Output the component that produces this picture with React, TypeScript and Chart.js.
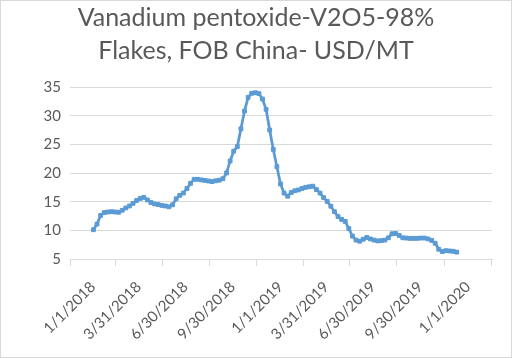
import React, { useEffect, useRef } from 'react';
import { Chart, registerables } from 'chart.js';

Chart.register(...registerables);

const TITLE_LINES = ['Vanadium pentoxide-V2O5-98%', 'Flakes, FOB China- USD/MT'];

const DATES = [
  '2018-01-02', '2018-01-09', '2018-01-16', '2018-01-23', '2018-01-30',
  '2018-02-06', '2018-02-13', '2018-02-20', '2018-02-27',
  '2018-03-06', '2018-03-13', '2018-03-20', '2018-03-27',
  '2018-04-03', '2018-04-10', '2018-04-17', '2018-04-24',
  '2018-05-01', '2018-05-08', '2018-05-15', '2018-05-22', '2018-05-29',
  '2018-06-05', '2018-06-12', '2018-06-19', '2018-06-26',
  '2018-07-03', '2018-07-10', '2018-07-17', '2018-07-24', '2018-07-31',
  '2018-08-07', '2018-08-14', '2018-08-21', '2018-08-28',
  '2018-09-04', '2018-09-11', '2018-09-18', '2018-09-25',
  '2018-10-02', '2018-10-09', '2018-10-16', '2018-10-23', '2018-10-30',
  '2018-11-06', '2018-11-13', '2018-11-20', '2018-11-27',
  '2018-12-04', '2018-12-11', '2018-12-18', '2018-12-25',
  '2019-01-01', '2019-01-08', '2019-01-15', '2019-01-22', '2019-01-29',
  '2019-02-05', '2019-02-12', '2019-02-19', '2019-02-26',
  '2019-03-05', '2019-03-12', '2019-03-19', '2019-03-26',
  '2019-04-02', '2019-04-09', '2019-04-16', '2019-04-23', '2019-04-30',
  '2019-05-07', '2019-05-14', '2019-05-21', '2019-05-28',
  '2019-06-04', '2019-06-11', '2019-06-18', '2019-06-25',
  '2019-07-02', '2019-07-09', '2019-07-16', '2019-07-23', '2019-07-30',
  '2019-08-06', '2019-08-13', '2019-08-20', '2019-08-27',
  '2019-09-03', '2019-09-10', '2019-09-17', '2019-09-24',
  '2019-10-01', '2019-10-08', '2019-10-15', '2019-10-22', '2019-10-29',
  '2019-11-05', '2019-11-12', '2019-11-19', '2019-11-26',
  '2019-12-03', '2019-12-10',
];

const PRICES = [
  10.1, 11.1, 12.6, 13.1, 13.2, 13.25, 13.2, 13.15, 13.5, 13.9,
  14.25, 14.7, 15.2, 15.55, 15.75, 15.3, 14.85, 14.6, 14.5, 14.35,
  14.25, 14.1, 14.45, 15.5, 16.1, 16.5, 17.3, 18.2, 18.9, 18.9,
  18.8, 18.7, 18.6, 18.5, 18.65, 18.75, 19.0, 20.0, 22.1, 23.8,
  24.6, 27.7, 30.8, 33.2, 33.9, 34.0, 33.85, 32.9, 31.1, 27.5,
  24.1, 21.1,
  18.1, 16.5, 15.95, 16.6, 16.9, 17.05, 17.3, 17.5, 17.6, 17.7,
  17.1, 16.5, 15.7, 15.05, 14.2, 13.25, 12.4, 11.9, 11.55, 10.3,
  9.0, 8.3, 8.1, 8.45, 8.75, 8.5, 8.3, 8.15, 8.2, 8.3,
  8.7, 9.4, 9.45, 9.1, 8.7, 8.65, 8.6, 8.6, 8.6, 8.65,
  8.65, 8.5, 8.25, 7.75, 6.7, 6.3, 6.45, 6.4, 6.35, 6.2,
];

const X_TICK_LABELS = [
  '1/1/2018', '3/31/2018', '6/30/2018', '9/30/2018', '1/1/2019',
  '3/31/2019', '6/30/2019', '9/30/2019', '1/1/2020',
];

const Y_MIN = 5;
const Y_MAX = 35;
const Y_STEP = 5;

const BASE = Date.UTC(2018, 0, 1);
const isoDay = (s: string) => {
  const [y, m, d] = s.split('-').map(Number);
  return (Date.UTC(y, m - 1, d) - BASE) / 86400000;
};
const usDay = (s: string) => {
  const [m, d, y] = s.split('/').map(Number);
  return (Date.UTC(y, m - 1, d) - BASE) / 86400000;
};

const FONT = 'Lato, "Open Sans", sans-serif';
const TEXT = '#595959';
const GRID = '#d9d9d9';
const LINE = '#5B9BD5';

const framePlugin = {
  id: 'frame',
  beforeDraw(chart: any) {
    const { ctx, width, height } = chart;
    ctx.save();
    ctx.fillStyle = '#ffffff';
    ctx.fillRect(0, 0, width, height);
    ctx.strokeStyle = GRID;
    ctx.lineWidth = 1;
    ctx.strokeRect(0.5, 0.5, width - 1, height - 1);
    ctx.restore();
  },
};

export default function App() {
  const ref = useRef<HTMLCanvasElement | null>(null);

  useEffect(() => {
    if (!ref.current) return;
    const tickDays = X_TICK_LABELS.map(usDay);
    const labelByDay = new Map<number, string>();
    tickDays.forEach((d, i) => labelByDay.set(d, X_TICK_LABELS[i]));
    const firstGap = (tickDays[1] - tickDays[0]) / 2;
    const lastGap = (tickDays[tickDays.length - 1] - tickDays[tickDays.length - 2]) / 2;

    const chart = new Chart(ref.current, {
      type: 'line',
      data: {
        datasets: [
          {
            data: DATES.map((d, i) => ({ x: isoDay(d), y: PRICES[i] })),
            borderColor: LINE,
            backgroundColor: LINE,
            borderWidth: 2.75,
            pointRadius: 2.7,
            pointStyle: 'rect',
            pointBorderWidth: 1,
            pointBorderColor: LINE,
            pointBackgroundColor: LINE,
            tension: 0,
          },
        ],
      },
      options: {
        responsive: false,
        maintainAspectRatio: false,
        animation: false,
        layout: { padding: 0 },
        plugins: {
          legend: { display: false },
          tooltip: { enabled: false },
          title: {
            display: true,
            text: TITLE_LINES,
            color: TEXT,
            font: { family: FONT, size: 25, weight: 'normal', lineHeight: '33px' },
            padding: { top: 1, bottom: 20 },
          },
        },
        scales: {
          x: {
            type: 'linear',
            bounds: 'data',
            min: tickDays[0] - firstGap - 0.1,
            max: tickDays[tickDays.length - 1] + lastGap + 0.1,
            afterBuildTicks: (scale: any) => {
              scale.ticks = tickDays.map((value) => ({ value }));
            },
            afterFit: (scale: any) => {
              scale.height = 99;
            },
            grid: {
              offset: true,
              drawOnChartArea: false,
              drawTicks: true,
              tickLength: 7,
              color: GRID,
            },
            border: { display: true, color: GRID },
            ticks: {
              autoSkip: false,
              maxRotation: 45,
              minRotation: 45,
              padding: 12,
              color: TEXT,
              font: { family: FONT, size: 15 },
              callback: (v: any) => labelByDay.get(Number(v)) ?? '',
            },
          },
          y: {
            type: 'linear',
            position: 'left',
            min: Y_MIN,
            max: Y_MAX,
            afterFit: (scale: any) => {
              scale.width = 70;
            },
            grid: { color: GRID, drawTicks: false },
            border: { display: false },
            ticks: {
              stepSize: Y_STEP,
              padding: 9,
              color: TEXT,
              font: { family: FONT, size: 15 },
            },
          },
          pad: {
            type: 'linear',
            position: 'right',
            display: true,
            grid: { display: false },
            border: { display: false },
            ticks: { display: false },
            afterFit: (scale: any) => {
              scale.width = 20;
            },
          },
        },
      },
      plugins: [framePlugin],
    });
    return () => chart.destroy();
  }, []);

  return (
    <div style={{ position: 'fixed', left: 0, top: 0, width: 512, height: 358 }}>
      <canvas ref={ref} width={512} height={358} />
    </div>
  );
}
